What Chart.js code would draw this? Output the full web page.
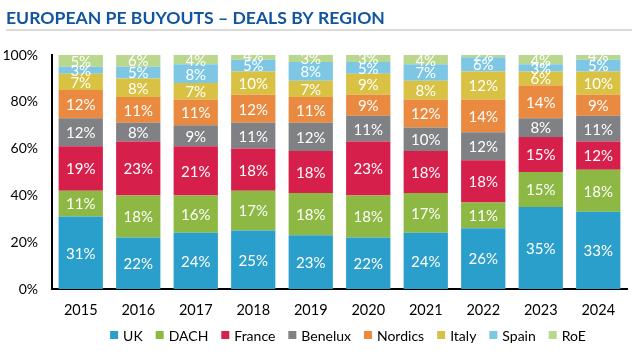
<!DOCTYPE html>
<html>
<head>
<meta charset="utf-8">
<script src="https://cdn.jsdelivr.net/npm/chart.js@4/dist/chart.umd.min.js"></script>
<style>
html,body{margin:0;padding:0;background:#fff;}
#wrap{position:relative;width:644px;height:351px;}
</style>
</head>
<body>
<div id="wrap"><canvas id="c" width="644" height="351"></canvas></div>
<script>
const TITLE = "EUROPEAN PE BUYOUTS \u2013 DEALS BY REGION";
const years = ["2015","2016","2017","2018","2019","2020","2021","2022","2023","2024"];
const uk      = [31,22,24,25,23,22,24,26,35,33];
const dach    = [11,18,16,17,18,18,17,11,15,18];
const france  = [19,23,21,18,18,23,18,18,15,12];
const benelux = [12, 8, 9,11,12,11,10,12, 8,11];
const nordics = [12,11,11,12,11, 9,12,14,14, 9];
const italy   = [ 7, 8, 7,10, 7, 9, 8,12, 6,10];
const spain   = [ 3, 5, 8, 5, 8, 5, 7, 6, 3, 5];
const roe     = [ 5, 6, 4, 4, 3, 3, 4, 2, 4, 4];
const yTicks  = [0,20,40,60,80,100];

const FONT = "Lato, 'Open Sans', sans-serif";

const series = [
  {label:"UK", data:uk, color:"#2A9FCB"},
  {label:"DACH", data:dach, color:"#8CB843"},
  {label:"France", data:france, color:"#D71F4C"},
  {label:"Benelux", data:benelux, color:"#7F8184"},
  {label:"Nordics", data:nordics, color:"#E98A40"},
  {label:"Italy", data:italy, color:"#D9C243"},
  {label:"Spain", data:spain, color:"#7DC7E5"},
  {label:"RoE", data:roe, color:"#BAD78E"}
];

const headerPlugin = {
  id:"header",
  beforeDraw(chart){
    const ctx = chart.ctx;
    ctx.save();
    ctx.fillStyle = "#fff";
    ctx.fillRect(0,0,chart.width,chart.height);
    ctx.font = "bold 17.6px " + FONT;
    ctx.fillStyle = "#12559F";
    ctx.textBaseline = "alphabetic";
    ctx.textAlign = "left";
    ctx.fillText(TITLE, 6, 24);
    ctx.strokeStyle = "#D9D9D9";
    ctx.lineWidth = 2;
    ctx.beginPath();
    ctx.moveTo(6, 30);
    ctx.lineTo(632, 30);
    ctx.stroke();
    ctx.restore();
  }
};

const labelPlugin = {
  id:"segLabels",
  afterDatasetsDraw(chart){
    const ctx = chart.ctx;
    ctx.save();
    ctx.font = "15px " + FONT;
    ctx.fillStyle = "#fff";
    ctx.textAlign = "center";
    ctx.textBaseline = "middle";
    chart.data.datasets.forEach((ds, di) => {
      const meta = chart.getDatasetMeta(di);
      meta.data.forEach((bar, i) => {
        const v = ds.data[i];
        const yc = (bar.y + bar.base) / 2;
        ctx.fillText(v + "%", bar.x, yc + 1);
      });
    });
    ctx.restore();
  }
};

const legendPlugin = {
  id:"customLegend",
  afterDraw(chart){
    const ctx = chart.ctx;
    ctx.save();
    ctx.font = "14px " + FONT;
    ctx.textBaseline = "middle";
    ctx.textAlign = "left";
    const box = 8, gapText = 5, gapItem = 13, cy = 335;
    const items = chart.data.datasets.map(d => ({label:d.label, color:d.backgroundColor, w:ctx.measureText(d.label).width}));
    let total = 0;
    items.forEach((it, i) => { total += box + gapText + it.w + (i < items.length - 1 ? gapItem : 0); });
    let x = 348 - total / 2;
    items.forEach(it => {
      ctx.fillStyle = it.color;
      ctx.fillRect(x, cy - box / 2, box, box);
      ctx.fillStyle = "#000";
      ctx.fillText(it.label, x + box + gapText, cy + 1);
      x += box + gapText + it.w + gapItem;
    });
    ctx.restore();
  }
};

new Chart(document.getElementById("c"), {
  type:"bar",
  data:{
    labels: years,
    datasets: series.map(s => ({
      label:s.label, data:s.data, backgroundColor:s.color, borderWidth:0,
      barPercentage:0.77, categoryPercentage:1.0
    }))
  },
  options:{
    responsive:false,
    animation:false,
    devicePixelRatio:1,
    layout:{padding:{top:55, right:17, left:0, bottom:32}},
    plugins:{
      title:{display:false},
      tooltip:{enabled:false},
      legend:{display:false}
    },
    scales:{
      x:{
        stacked:true,
        afterFit(scale){ scale.height = 30; },
        grid:{display:false, drawTicks:false},
        border:{display:true, color:"#000", width:2},
        ticks:{color:"#000", font:{family:FONT, size:14.5}, padding:13}
      },
      y:{
        stacked:true, min:0, max:100,
        afterBuildTicks(scale){ scale.ticks = yTicks.map(v => ({value:v})); },
        afterFit(scale){ scale.width = 52; },
        grid:{display:false, drawTicks:false},
        border:{display:true, color:"#000", width:2},
        ticks:{color:"#000", font:{family:FONT, size:14}, padding:14, callback:v => v + "%"}
      }
    }
  },
  plugins:[headerPlugin, labelPlugin, legendPlugin]
});
</script>
</body>
</html>
